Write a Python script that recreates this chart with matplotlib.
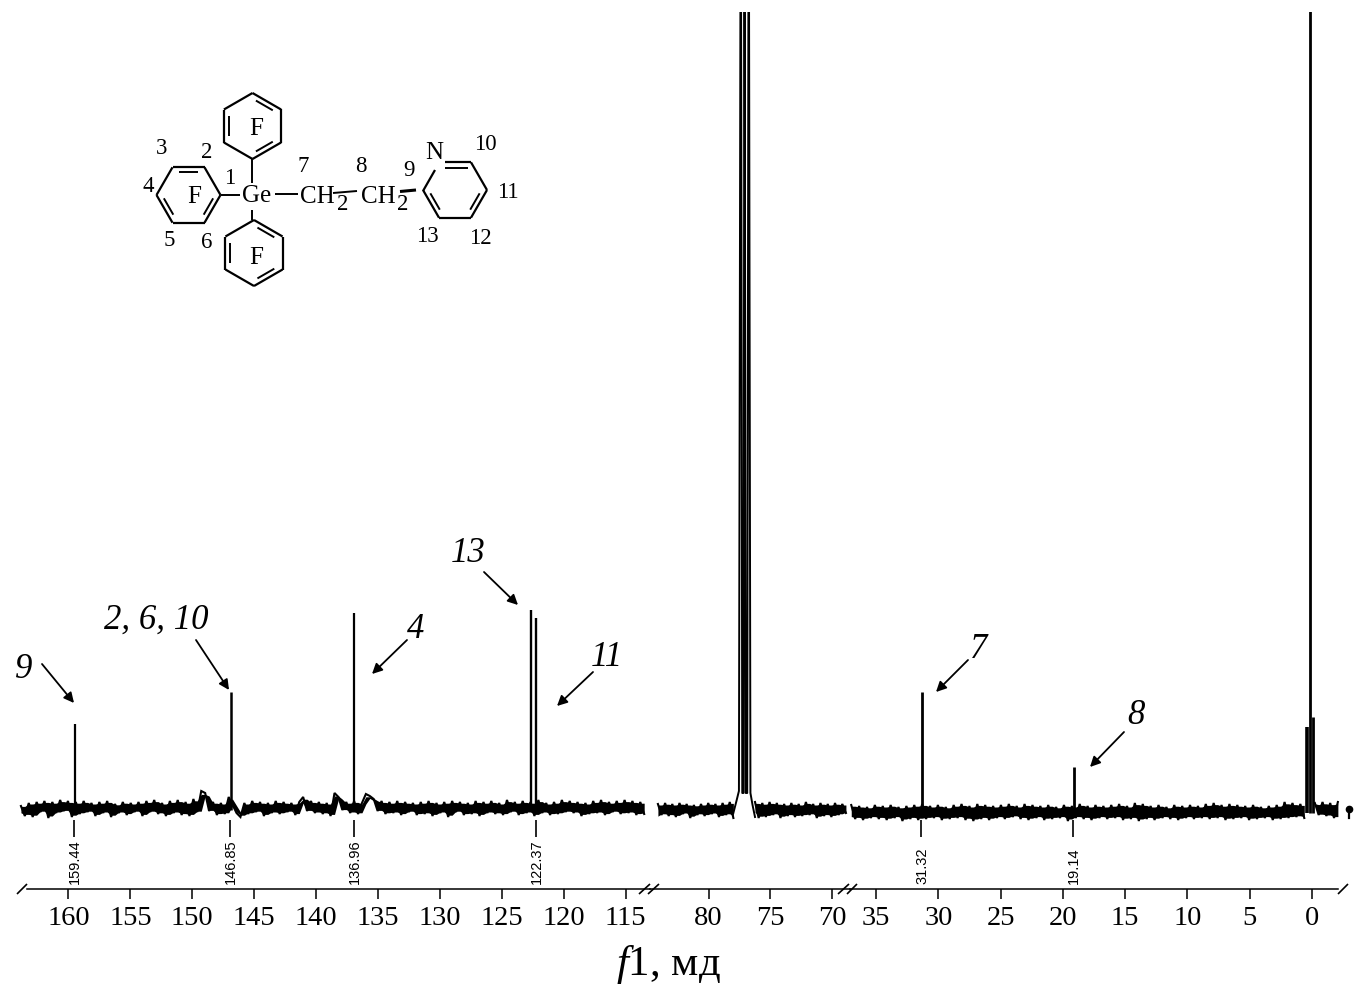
import numpy as np
import matplotlib
matplotlib.use('Agg')
import matplotlib.pyplot as plt

plt.rcParams['font.family'] = ['Liberation Serif', 'DejaVu Serif']
plt.rcParams['mathtext.fontset'] = 'custom'
plt.rcParams['mathtext.it'] = 'Liberation Serif:italic'
plt.rcParams['mathtext.rm'] = 'Liberation Serif'

W, H = 1364, 994

# peaks, ppm and height (off-scale ones are cut by the axes top)
peaks_ppm = [159.47, 146.85, 136.96, 122.62, 122.27, 31.32, 19.14, 0.40, 0.14, -0.08]
peaks_int = [84, 116, 195, 198, 190, 116, 41, 81, 1000, 91]
peak_lw = [1.6, 1.8, 1.6, 1.7, 1.7, 2.0, 2.0, 2.6, 2.0, 2.0]

# CDCl3 triplet with its broad foot
solvent_ppm = [78.00, 77.75, 77.55, 77.40, 77.28, 77.18, 77.10, 77.00, 76.88, 76.76, 76.62, 76.45, 76.25]
solvent_int = [-4, 8, 18, 1000, 16, 16, 1000, 16, 16, 1000, 16, 4, -8]

# baseline, left to right
noise_a = [2, -8, 5, -9, 6, -4, 7, -10, 6, -5, 8, -3, 7, -9, 6, -6, 7, -4, 5, -8,
           6, -5, 7, -9, 4, -5, 6, -7, 5, -4, 6, -8, 7, -4, 8, -6, 5, -8, 7, -5,
           8, -7, 6, -8, 9, -4, 17, 15, -3, 6, -7, 5, -6, 11, 3, -5, -9, 5, -6, 7,
           -4, 6, -8, 5, -5, 7, -6, 6, -4, 5, -7, 6, 11, -3, 7, -5, 6, -6, 5, -8,
           15, 11, -2, 6, -5, 7, -6, 5, 14, 12, 9, -3, 7, -6, 6, -5, 7, -7, 6, -4,
           5, -7, 6, -6, 7, -8, 5, -5, 6, -9, 7, -4, 6, -7, 5, -6, 7, -8, 6, -5,
           7, -6, 5, -7, 8, -4, 6, -7, 7, -5, 6, -8, 8, -5, 5, -7, 6, -6, 8, -4,
           7, -5, 6, -8, 5, -6, 7, -5, 8, -7, 6, -4, 7, -6, 8, -5, 7, -7, 6, -6]
noise_b = [5, -6, 6, -7, 5, -8, 6, -5, 5, -9, 4, -6, 5, -7, 6, -5, 5, -8, 6, -6, 7, -9]
noise_c = [7, -9, 6, -8, 7, -6, 6, -9, 5, -7, 6, -8, 5, -7, 7, -6, 5, -9, 6, -7,
           5, -8, 6, -6, 5, -4]
noise_d = [6, -8, 5, -9, 4, -7, 6, -8, 5, -9, 6, -7, 4, -10, 5, -8, 6, -9, 7, -8,
           5, -7, 6, -9, 4, -8, 6, -7, 7, -9, 5, -10, 7, -8, 6, -9, 5, -7, 6, -8,
           7, -6, 5, -8, 7, -9, 6, -7, 5, -9, 6, -8, 4, -7, 6, -10, 5, -7, 7, -8,
           5, -9, 6, -7, 5, -8, 6, -7, 7, -9, 5, -8, 8, -10, 7, -8, 5, -9, 6, -7,
           4, -8, 6, -9, 5, -7, 6, -8, 5, -7, 7, -8, 8, -7, 6, -9, 7, -8, 6, -7,
           5, -9, 6, -8, 4, -7, 5, -9, 6, -8, 9, -7, 8, -6, 7, -7]
noise_e = [8, -4, 9, -5, 8, -7, 9]
noise_f = [3, -7]

seg_ticks = [[160, 155, 150, 145, 140, 135, 130, 125, 120, 115], [80, 75, 70],
             [35, 30, 25, 20, 15, 10, 5, 0]]
seg_xlim = [(163.35, 113.03), (84.74, 68.57), (37.1, -2.11)]
seg_px = [(27, 650), (650, 850), (850, 1338)]
seg_base = [0, -1, -3]

peak_labels = ['159.44', '146.85', '136.96', '122.37', '31.32', '19.14']
peak_label_px = [73.5, 230, 353.5, 535.5, 921, 1073]

fig = plt.figure(figsize=(W / 100, H / 100), dpi=100)

axes = []
for (x0, x1), lim, ticks in zip(seg_px, seg_xlim, seg_ticks):
    ax = fig.add_axes([x0 / W, 1 - 889 / H, (x1 - x0) / W, (889 - 12) / H])
    ax.set_xlim(*lim)
    ax.set_ylim(-81, 796)
    ax.set_xticks(ticks)
    ax.set_yticks([])
    ax.patch.set_alpha(0)
    for s in ['top', 'left', 'right']:
        ax.spines[s].set_visible(False)
    ax.spines['bottom'].set_linewidth(1.1)
    ax.tick_params(axis='x', length=7.2, width=1.1, labelsize=20.5, pad=5)
    axes.append(ax)

def noise(ax, vals, left, right, base):
    # zigzag on top of a solid core, the trace is too dense to show white inside
    vals = np.array(vals)
    xs = np.linspace(left, right, len(vals))
    top = np.maximum(vals, np.roll(vals, 1)) * 0.8
    low = np.minimum(vals, np.roll(vals, 1)) * 0.8
    ax.fill_between(xs, low + base, top + base, color='k', lw=0, clip_on=False)
    ax.plot(xs, vals + base, color='k', lw=1.5, clip_on=False, solid_joinstyle='miter')

noise(axes[0], noise_a, 163.84, 113.5, seg_base[0])
noise(axes[1], noise_b, 84.1, 78.0, seg_base[1])
noise(axes[1], noise_c, 76.25, 68.9, seg_base[1])
noise(axes[2], noise_d, 37.0, 0.6, seg_base[2])
noise(axes[2], noise_e, -0.25, -2.1, seg_base[2])
axes[1].plot(solvent_ppm, np.array(solvent_int) + seg_base[1], color='k', lw=1.4)
axes[2].plot([-2.98, -2.98], np.array(noise_f) + seg_base[2], color='k', lw=1.6, clip_on=False)
axes[2].plot([-2.98], [noise_f[0] + seg_base[2] - 1], 'o', color='k', ms=4.5, clip_on=False)

for p, v, lw in zip(peaks_ppm, peaks_int, peak_lw):
    ax = axes[0] if p > 100 else axes[2]
    ax.plot([p, p], [-2 + (seg_base[2] if p < 100 else 0), v], color='k', lw=lw, solid_capstyle='butt')

# overlay in image pixels for the annotations and the structure
ov = fig.add_axes([0, 0, 1, 1])
ov.set_xlim(0, W)
ov.set_ylim(H, 0)
ov.axis('off')
ov.patch.set_alpha(0)

def seg(x0, y0, x1, y1, lw=1.4):
    ov.plot([x0, x1], [y0, y1], color='k', lw=lw, solid_capstyle='butt')

# axis breaks
for x0, x1 in [(17, 27), (639, 650), (648, 659), (838, 849), (847, 857), (1338, 1348)]:
    seg(x0, 894, x1, 884, 1.2)

# peak labels
for lab, x in zip(peak_labels, peak_label_px):
    seg(x, 820, x, 837, 1.2)
    ov.text(x + 1, 884, lab, rotation=90, ha='center', va='bottom', fontsize=10.5,
            family='Liberation Sans', color='k')

ov.text(668, 975, r'$\mathit{f}$1, мд', ha='center', va='baseline', fontsize=31)

# assignment arrows
arrows = [('9', 24, 669, 42, 664, 74, 703), ('2, 6, 10', 156, 620, 196, 640, 229, 690),
          ('4', 416, 629, 407, 640, 372, 674), ('13', 468, 554, 484, 572, 518, 605),
          ('11', 607, 657, 593, 672, 557, 706), ('7', 979, 650, 968, 660, 936, 692),
          ('8', 1136, 715, 1124, 732, 1090, 767)]
for lab, tx, ty, x0, y0, x1, y1 in arrows:
    ov.text(tx, ty, lab, style='italic', fontsize=25, ha='center', va='center')
    ov.annotate('', xy=(x1, y1), xytext=(x0, y0),
                arrowprops=dict(arrowstyle='-|>', color='k', lw=1.3, mutation_scale=15,
                                shrinkA=0, shrinkB=0))

# structure
def ring(cx, cy, r, start, doubles, skip=()):
    ang = np.radians(start + 60 * np.arange(7))
    px = cx + r * np.cos(ang)
    py = cy + r * np.sin(ang)
    for i in range(6):
        if i not in skip:
            seg(px[i], py[i], px[i + 1], py[i + 1], 1.6)
    for i in doubles:
        ax0 = px[i] + (cx - px[i]) * 0.17 + (px[i + 1] - px[i]) * 0.12
        ay0 = py[i] + (cy - py[i]) * 0.17 + (py[i + 1] - py[i]) * 0.12
        ax1 = px[i + 1] + (cx - px[i + 1]) * 0.17 - (px[i + 1] - px[i]) * 0.12
        ay1 = py[i + 1] + (cy - py[i + 1]) * 0.17 - (py[i + 1] - py[i]) * 0.12
        seg(ax0, ay0, ax1, ay1, 1.4)

ring(252.5, 126, 33, 30, [4, 2, 0])
ring(188.5, 195, 32, 0, [4, 2, 0])
ring(254, 253, 33, 30, [4, 2, 0])
ring(455, 190, 32, 0, [2, 0], skip=(3, 4))
seg(445, 162, 471, 162, 1.6)
seg(445, 168, 468, 168, 1.4)
seg(423, 191, 435, 170, 1.6)

seg(252, 159, 252, 183)
seg(221, 195, 240, 195)
seg(252, 210, 252, 220)
seg(275, 194, 298, 194)
seg(333, 193, 357, 191)
seg(400, 191.5, 416, 190, 2.2)

labels = [('3', 161.5, 148), ('2', 207, 152), ('1', 230, 179), ('4', 148, 187), ('5', 169, 240),
          ('6', 207, 243), ('7', 303, 167), ('8', 361, 167), ('9', 409, 170),
          ('10', 485, 145), ('11', 508, 193), ('12', 480, 239), ('13', 427, 237),
          ('2', 343, 205), ('2', 403, 205)]
for t, x, y in labels:
    ov.text(x, y, t, ha='center', va='center', fontsize=16.5)

atoms = [('N', 434, 153), ('F', 256, 129), ('F', 194, 197), ('F', 256, 258), ('Ge', 257, 196),
         ('CH', 317, 197), ('CH', 378, 197)]
for t, x, y in atoms:
    ov.text(x, y, t, ha='center', va='center', fontsize=18)

fig.savefig('out.png', dpi=100)
